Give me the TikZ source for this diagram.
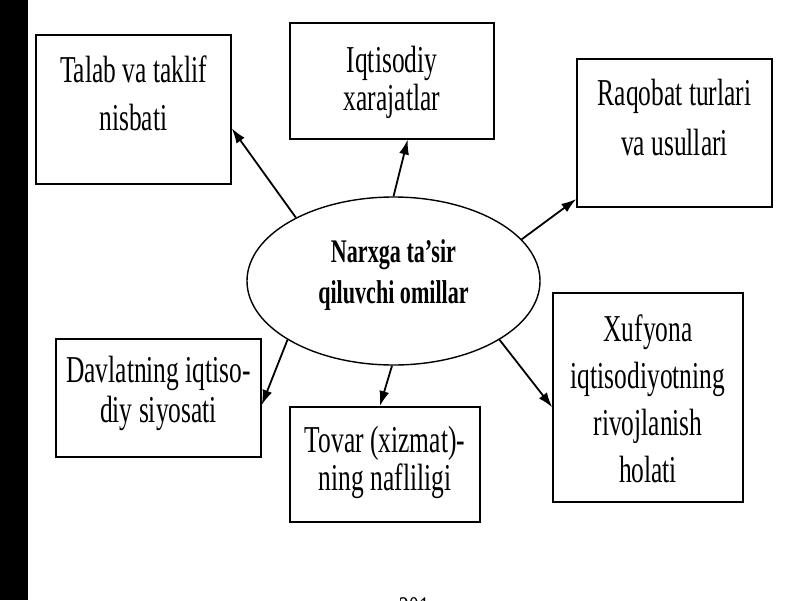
\documentclass[tikz,border=0pt]{standalone}
\usepackage{fontspec}
\setmainfont[FakeStretch=0.67]{Liberation Serif}
\usetikzlibrary{shapes.geometric,arrows.meta}

\begin{document}
\begin{tikzpicture}[x=1pt,y=-1pt]
\tikzset{>={Latex[length=15pt,width=10pt]},
    box/.style={rectangle, draw, line width=1.5pt, align=flush center, inner sep=0pt, anchor=north,
        font=\fontsize{38}{#1}\selectfont},
    omilnode/.style={ellipse, draw, line width=1.4pt, minimum width=293pt, minimum height=168pt, inner sep=0pt,
        align=flush center, text width=200pt, text height=30pt, text depth=68pt,
        font=\bfseries\fontsize{33}{41}\selectfont}
}
  \useasboundingbox (0,0) rectangle (800,600);
  \fill (0,0) rectangle (28,600);

  \node[omilnode] (omil) at (393.5,281) {Narxga ta’sir\\qiluvchi omillar};
  \node[box=48, text width=195pt, text height=48pt, text depth=101pt] (talab) at (133.5,34) {Talab va taklif\\nisbati};
  \node[box=38, text width=204pt, text height=50pt, text depth=66pt] (xarajat) at (392,22) {Iqtisodiy\\xarajatlar};
  \node[box=50, text width=195pt, text height=47pt, text depth=101pt] (raqobat) at (674.5,58) {Raqobat turlari\\va usullari};
  \node[box=40, text width=205pt, text height=44pt, text depth=74pt] (davlat) at (158.5,338) {Davlatning iqtiso-\\diy siyosati};
  \node[box=38, text width=190pt, text height=46pt, text depth=69pt] (tovar) at (385,406) {Tovar (xizmat)-\\ning nafliligi};
  \node[box=47, text width=190pt, text height=49pt, text depth=160pt] (xufyona) at (648,292) {Xufyona\\iqtisodiyotning\\rivojlanish\\holati};

  \draw[->, line width=1.8pt] (omil.147) -- (talab.-11);
  \draw[->, line width=1.8pt] (omil.90) -- (xarajat.-75);
  \draw[->, line width=1.8pt] (omil.18) -- (raqobat.214);
  \draw[->, line width=1.8pt] (omil.209) -- (davlat.-4);
  \draw[->, line width=1.8pt] (omil.-91) -- (tovar.95);
  \draw[->, line width=1.8pt] (omil.-29) -- (xufyona.186);

  % page number, cut at the lower edge
  \begin{scope}
    \clip (0,0) rectangle (800,600);
    \node[anchor=base, font=\fontsize{30}{36}\selectfont] (bet) at (414,617) {201};
  \end{scope}
\end{tikzpicture}
\end{document}
